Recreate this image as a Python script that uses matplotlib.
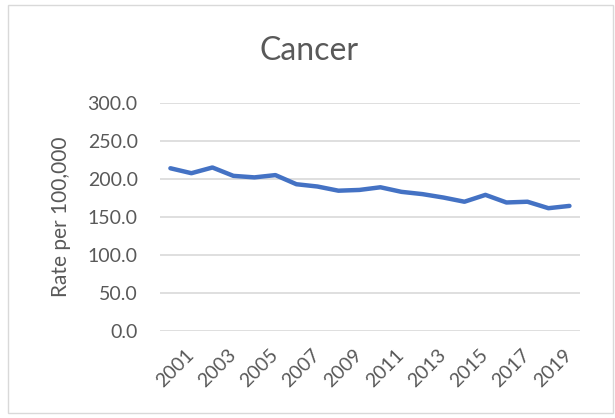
import matplotlib
matplotlib.use("Agg")
import matplotlib.pyplot as plt
from matplotlib.patches import Rectangle

years = list(range(2000, 2020))
rate = [214, 207.5, 215, 204, 202, 205, 193, 190, 184.5, 185.5,
        189, 183, 180, 175.5, 170, 179, 169, 170, 161.5, 164.5]
yticks = [0, 50, 100, 150, 200, 250, 300]

plt.rcParams.update({
    "font.family": ["Lato", "DejaVu Sans"],
    "text.color": "#595959", "xtick.color": "#595959", "ytick.color": "#595959",
    "axes.labelcolor": "#595959",
})

fig = plt.figure(figsize=(6.15, 4.18), dpi=100)
ax = fig.add_axes([0.260, 0.208, 0.683, 0.546])

x = list(range(len(years)))
ax.plot(x, rate, color="#4472C4", lw=3.2, solid_joinstyle="round", solid_capstyle="round", zorder=3)

ax.set_xlim(-0.5, len(years) - 0.5)
ax.set_ylim(0, 300)
ax.set_yticks(yticks)
ax.set_yticklabels([f"{v:.1f}" for v in yticks], fontsize=14)
ax.yaxis.grid(True, color="#D9D9D9", lw=1.2)
ax.set_axisbelow(True)

# only odd years get a label, like the original
lab_idx = [i for i, y in enumerate(years) if y % 2 == 1]
ax.set_xticks(lab_idx)
ax.set_xticklabels([str(years[i]) for i in lab_idx], fontsize=14, rotation=45,
                   ha="right", va="center", rotation_mode="anchor")
ax.tick_params(axis="x", length=0, pad=15)
ax.tick_params(axis="y", length=0, pad=16)
for s in ax.spines.values():
    s.set_visible(False)

ax.set_ylabel("Rate per 100,000", fontsize=15, labelpad=12)
fig.text(0.502, 0.878, "Cancer", ha="center", va="center", fontsize=23, color="#595959")

fig.patches.append(Rectangle((8 / 615, 5 / 418), 605 / 615, 408 / 418, transform=fig.transFigure,
                             fill=False, edgecolor="#D9D9D9", lw=1))

fig.savefig("out.png", dpi=100)
